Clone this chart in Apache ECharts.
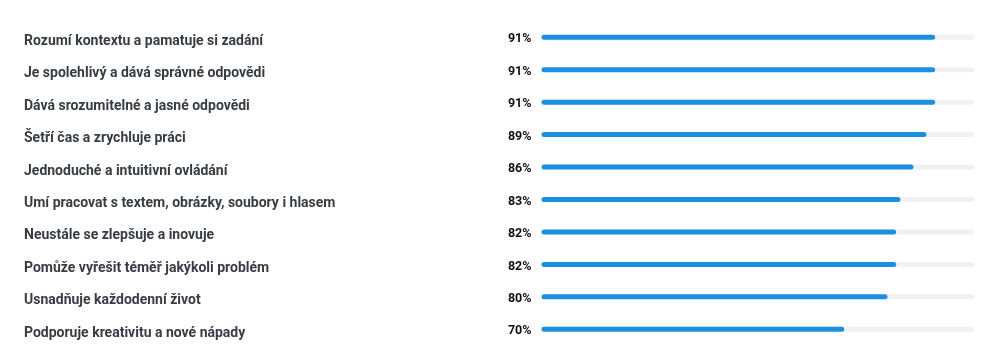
<!DOCTYPE html>
<html>
<head>
<meta charset="utf-8">
<script src="https://cdn.jsdelivr.net/npm/echarts@6/dist/echarts.min.js"></script>
<style>
html,body{margin:0;padding:0;background:#fff;}
#chart{width:1000px;height:362px;}
</style>
</head>
<body>
<div id="chart"></div>
<script>
const categories = [
  "Rozumí kontextu a pamatuje si zadání",
  "Je spolehlivý a dává správné odpovědi",
  "Dává srozumitelné a jasné odpovědi",
  "Šetří čas a zrychluje práci",
  "Jednoduché a intuitivní ovládání",
  "Umí pracovat s textem, obrázky, soubory i hlasem",
  "Neustále se zlepšuje a inovuje",
  "Pomůže vyřešit téměř jakýkoli problém",
  "Usnadňuje každodenní život",
  "Podporuje kreativitu a nové nápady"
];
const values = [91, 91, 91, 89, 86, 83, 82, 82, 80, 70];

const chart = echarts.init(document.getElementById('chart'));
chart.setOption({
  animation: false,
  grid: { left: 541.5, right: 26, top: 21, bottom: 16.5, containLabel: false },
  xAxis: { type: 'value', min: 0, max: 100, show: false },
  yAxis: {
    type: 'category',
    data: categories,
    inverse: true,
    axisLine: { show: false },
    axisTick: { show: false },
    splitLine: { show: false },
    axisLabel: {
      align: 'left',
      margin: 517.5,
      fontFamily: 'Roboto',
      fontSize: 14,
      fontWeight: 'bold',
      color: '#363d44',
      verticalAlign: 'top',
      lineHeight: 8
    }
  },
  series: [{
    type: 'bar',
    data: values,
    barWidth: 5,
    showBackground: true,
    backgroundStyle: { color: '#eff1f3', borderRadius: 3 },
    itemStyle: { color: '#1c90e0', borderRadius: 3 },
    label: {
      show: true,
      position: 'left',
      distance: 10,
      formatter: '{c}%',
      fontFamily: 'Roboto',
      fontSize: 12.5,
      fontWeight: 'bold',
      color: '#111111',
      offset: [0, 2]
    }
  }]
});
</script>
</body>
</html>
